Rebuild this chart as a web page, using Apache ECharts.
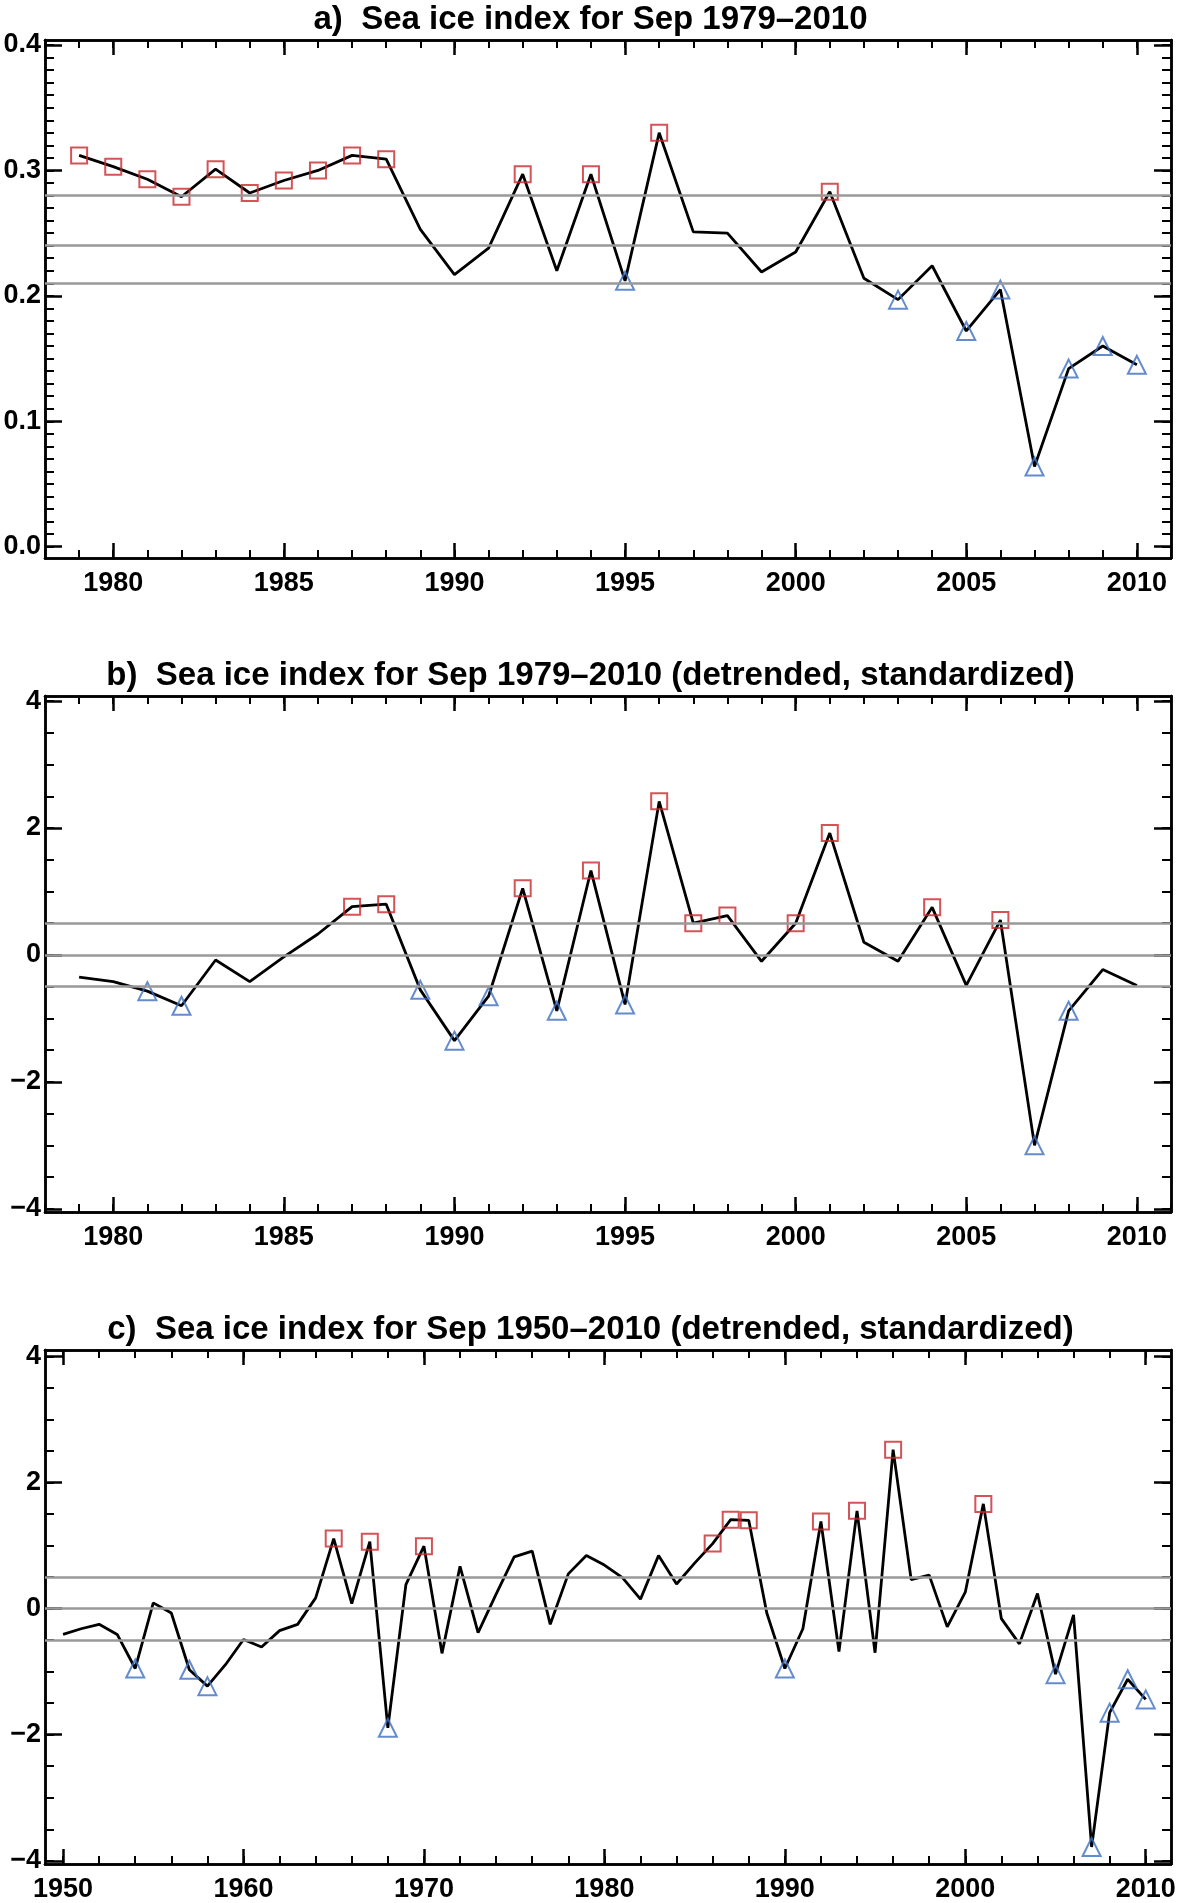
<!DOCTYPE html>
<html><head><meta charset="utf-8">
<script src="https://cdn.jsdelivr.net/npm/echarts@6/dist/echarts.min.js"></script>
<style>html,body{margin:0;padding:0;background:#fff}#c{width:1181px;height:1903px}</style>
</head><body><div id="c"></div>
<script>
const titles = ['a)  Sea ice index for Sep 1979\u20132010',
  'b)  Sea ice index for Sep 1979\u20132010 (detrended, standardized)',
  'c)  Sea ice index for Sep 1950\u20132010 (detrended, standardized)'];
const yearsA = Array.from({length:32},(_,i)=>1979+i);
const yearsC = Array.from({length:61},(_,i)=>1950+i);
const valuesA = [0.312,0.303,0.293,0.279,0.301,0.282,0.292,0.300,0.312,0.309,0.253,0.217,0.238,0.297,0.220,0.297,0.212,0.330,0.251,0.250,0.219,0.235,0.283,0.214,0.197,0.224,0.172,0.205,0.064,0.142,0.160,0.145];
const valuesB = [-0.35,-0.42,-0.57,-0.80,-0.08,-0.42,-0.03,0.33,0.76,0.80,-0.55,-1.35,-0.65,1.05,-0.88,1.33,-0.78,2.42,0.50,0.62,-0.10,0.50,1.92,0.20,-0.10,0.75,-0.48,0.55,-3.00,-0.88,-0.23,-0.48];
const valuesC = [-0.41,-0.32,-0.25,-0.41,-0.95,0.09,-0.07,-0.97,-1.23,-0.89,-0.49,-0.61,-0.35,-0.25,0.17,1.11,0.08,1.06,-1.89,0.38,0.99,-0.71,0.67,-0.38,0.23,0.82,0.91,-0.25,0.55,0.84,0.69,0.49,0.15,0.84,0.39,0.72,1.03,1.41,1.40,-0.07,-0.95,-0.32,1.38,-0.68,1.55,-0.70,2.52,0.46,0.53,-0.29,0.26,1.66,-0.16,-0.56,0.24,-1.04,-0.10,-3.78,-1.65,-1.12,-1.44];
const highA = [1979,1980,1981,1982,1983,1984,1985,1986,1987,1988,1992,1994,1996,2001];
const lowA = [1995,2003,2005,2006,2007,2008,2009,2010];
const highB = [1987,1988,1992,1994,1996,1997,1998,2000,2001,2004,2006];
const lowB = [1981,1982,1989,1990,1991,1993,1995,2007,2008];
const highC = [1965,1967,1970,1986,1987,1988,1992,1994,1996,2001];
const lowC = [1954,1957,1958,1968,1990,2005,2007,2008,2009,2010];
const refA = [0.275,0.245,0.214];
const refB = [0.5,0,-0.5];
const refC = [0.5,0,-0.5];
const xLabA = [1980,1985,1990,1995,2000,2005,2010];
const xLabC = [1950,1960,1970,1980,1990,2000,2010];
const yLabA = [0.0,0.1,0.2,0.3,0.4];
const yLabB = [-4,-2,0,2,4];

const panels = [
 {years:yearsA, vals:valuesA, hi:highA, lo:lowA, ref:refA, xl:xLabA, xmin:1978, xmax:2011, xminor:1,
  yl:yLabA, ymin:-0.009, ymax:0.404, yminor:0.01, top:40, h:518, fmt:v=>v.toFixed(1)},
 {years:yearsA, vals:valuesB, hi:highB, lo:lowB, ref:refB, xl:xLabA, xmin:1978, xmax:2011, xminor:1,
  yl:yLabB, ymin:-4.05, ymax:4.08, yminor:0.5, top:696, h:516, fmt:v=>v<0?'\u2212'+(-v):''+v},
 {years:yearsC, vals:valuesC, hi:highC, lo:lowC, ref:refC, xl:xLabC, xmin:1949, xmax:2011.4, xminor:2,
  yl:yLabB, ymin:-4.05, ymax:4.1, yminor:0.5, top:1350, h:520, fmt:v=>v<0?'\u2212'+(-v):''+v}
];
const FONT = '"Liberation Sans Narrow","Liberation Sans",sans-serif';
function range(a,b,s){const r=[];for(let v=Math.ceil(a/s-1e-9)*s;v<=b+1e-9;v+=s)r.push(+v.toFixed(4));return r;}
const grid=[],xAxis=[],yAxis=[],series=[],title=[];
panels.forEach((p,i)=>{
  grid.push({left:45,right:10,top:p.top,height:p.h});
  title.push({text:titles[i],left:'center',top:p.top-42,textStyle:{fontFamily:FONT,fontWeight:'bold',fontSize:33,color:'#000'}});
  const xb = {type:'value',gridIndex:i,min:p.xmin,max:p.xmax,axisLine:{show:true,onZero:false,lineStyle:{color:'#000',width:2.5}},splitLine:{show:false}};
  const minorX = range(p.xmin,p.xmax,p.xminor);
  ['bottom','top'].forEach(pos=>{
    xAxis.push(Object.assign({},xb,{position:pos,axisTick:{show:true,inside:true,length:15,customValues:p.xl,lineStyle:{color:'#000',width:2.5}},
      axisLabel:{show:pos==='bottom',customValues:p.xl,formatter:v=>String(v),fontFamily:FONT,fontWeight:'bold',fontSize:27,color:'#000',margin:12}}));
    xAxis.push(Object.assign({},xb,{position:pos,axisTick:{show:true,inside:true,length:8,customValues:minorX,lineStyle:{color:'#000',width:2}},axisLabel:{show:false}}));
  });
  const yb = {type:'value',gridIndex:i,min:p.ymin,max:p.ymax,axisLine:{show:true,onZero:false,lineStyle:{color:'#000',width:2.5}},splitLine:{show:false}};
  const minorY = range(p.ymin,p.ymax,p.yminor);
  ['left','right'].forEach(pos=>{
    yAxis.push(Object.assign({},yb,{position:pos,axisTick:{show:true,inside:true,length:17,customValues:p.yl,lineStyle:{color:'#000',width:2.5}},
      axisLabel:{show:pos==='left',customValues:p.yl,formatter:p.fmt,fontFamily:FONT,fontWeight:'bold',fontSize:27,color:'#000',margin:4}}));
    yAxis.push(Object.assign({},yb,{position:pos,axisTick:{show:true,inside:true,length:9,customValues:minorY,lineStyle:{color:'#000',width:2}},axisLabel:{show:false}}));
  });
  const xi=i*4, yi=i*4;
  const pts = p.years.map((y,k)=>[y,p.vals[k]]);
  series.push({type:'line',xAxisIndex:xi,yAxisIndex:yi,data:pts,showSymbol:false,symbol:'none',z:3,lineStyle:{color:'#000',width:2.8},
    markLine:{silent:true,symbol:'none',label:{show:false},lineStyle:{color:'#999',width:2.5,type:'solid'},data:p.ref.map(v=>({yAxis:v}))}});
  series.push({type:'scatter',xAxisIndex:xi,yAxisIndex:yi,data:pts.filter(d=>p.hi.includes(d[0])),symbol:'rect',symbolSize:16,z:4,
    itemStyle:{color:'rgba(0,0,0,0)',borderColor:'#c8282d',borderWidth:2}});
  series.push({type:'scatter',xAxisIndex:xi,yAxisIndex:yi,data:pts.filter(d=>p.lo.includes(d[0])),symbol:'triangle',symbolSize:18,z:4,
    itemStyle:{color:'rgba(0,0,0,0)',borderColor:'#3c6ec0',borderWidth:2}});
});
const chart = echarts.init(document.getElementById('c'),null,{renderer:'canvas'});
chart.setOption({animation:false,backgroundColor:'#fff',title,grid,xAxis,yAxis,series});
</script></body></html>
